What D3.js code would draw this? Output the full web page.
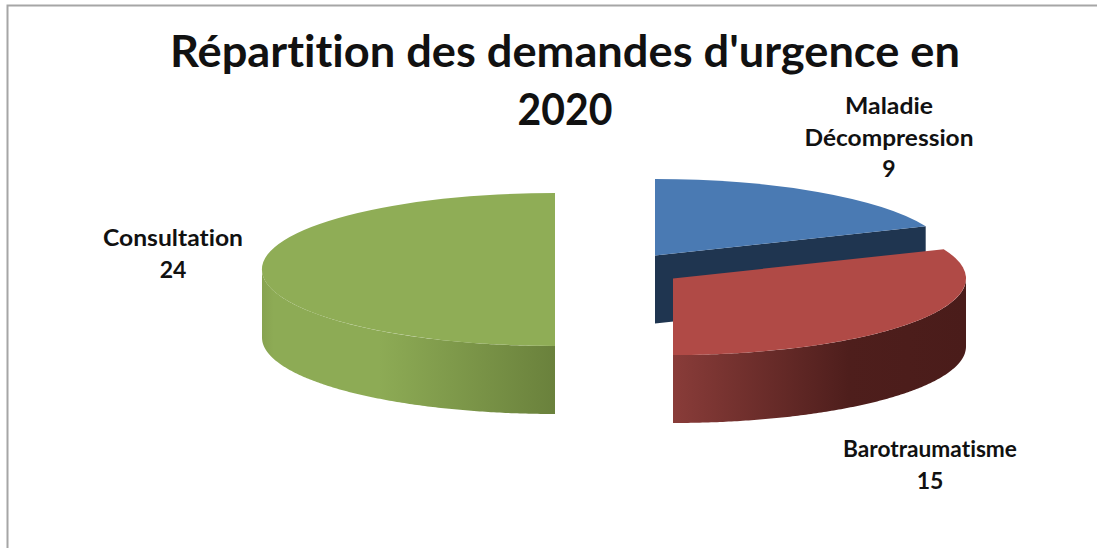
<!DOCTYPE html>
<html>
<head>
<meta charset="utf-8">
<script src="https://cdn.jsdelivr.net/npm/d3@7"></script>
<style>
  html, body { margin: 0; padding: 0; background: #fff; }
  svg { display: block; }
  text { font-family: Lato, "Open Sans", sans-serif; font-weight: 700; fill: #111; text-anchor: middle; font-variant-ligatures: none; }
</style>
</head>
<body>
<svg id="chart" width="1097" height="548"></svg>
<script>
const categories = ["Maladie Décompression", "Barotraumatisme", "Consultation"];
const values = [9, 15, 24];
const titleLines = ["Répartition des demandes d'urgence en", "2020"];
const labelLines = [["Maladie", "Décompression"], ["Barotraumatisme"], ["Consultation"]];

const topColors = ["#4a7ab3", "#b04a46", "#8fad56"];
const cutColor = "#1f3550";
// side wall shading, left to right
const sideStops = [
    null,
    [[0, "#893c39"], [0.6, "#4e1e1c"], [1, "#4a1c1a"]],
    [[0, "#87a350"], [0.04, "#8dab55"], [0.4, "#8dab55"], [1, "#6a813c"]]
];

const rx = 293, ry = 76.5, depth = 68;
const centers = [[655, 255.5], [673, 278.5], [555, 269.5]];
const labelPos = [[889, 114], [930, 457], [173, 246]];
// the Calibri-like face in the reference runs wider than Lato, so widths are pinned
const titleWidths = [790, 95];
const labelWidths = [[88, 169], [174], [140]];

const svg = d3.select("#chart");
const defs = svg.append("defs");

// chart frame
svg.append("path")
    .attr("d", d3.line()([[7.5, 548], [7.5, 5.5], [1097, 5.5]]))
    .attr("fill", "none")
    .attr("stroke", "#a6a6a6")
    .attr("stroke-width", 2);

const pie = d3.pie().sort(null).value(d => d);
const slices = pie(values);
const arc = d3.arc().innerRadius(0).outerRadius(rx);

const px = (s, a) => centers[s][0] + rx * Math.sin(a);
const py = (s, a) => centers[s][1] - ry * Math.cos(a);

// draw back to front: blue, green, red
[0, 2, 1].forEach(i => {
    const s = slices[i];
    const g = svg.append("g").attr("class", "slice");

    // cut face of the blue slice, seen from the front
    if (i === 0) {
        const c = centers[i];
        const ex = px(i, s.endAngle), ey = py(i, s.endAngle);
        g.append("path")
            .attr("d", d3.line()([[c[0], c[1]], [ex, ey], [ex, ey + depth], [c[0], c[1] + depth]]) + "Z")
            .attr("fill", cutColor);
    }

    // outer wall, only the part facing the viewer
    const a0 = Math.max(s.startAngle, Math.PI / 2);
    const a1 = Math.min(s.endAngle, Math.PI * 1.5);
    if (a0 < a1 && sideStops[i]) {
        const xs = d3.range(a0, a1, 0.01).concat([a1]);
        const xExt = d3.extent(xs, a => px(i, a));
        const grad = defs.append("linearGradient")
            .attr("id", "side" + i)
            .attr("gradientUnits", "userSpaceOnUse")
            .attr("x1", xExt[0]).attr("x2", xExt[1])
            .attr("y1", 0).attr("y2", 0);
        sideStops[i].forEach(st => {
            grad.append("stop").attr("offset", st[0]).attr("stop-color", st[1]);
        });
        const wall = d3.area()
            .x(a => px(i, a))
            .y0(a => py(i, a))
            .y1(a => py(i, a) + depth);
        g.append("path").attr("d", wall(xs)).attr("fill", "url(#side" + i + ")");
    }

    // top face
    g.append("path")
        .attr("transform", `translate(${centers[i][0]},${centers[i][1]}) scale(1,${ry / rx})`)
        .attr("d", arc(s))
        .attr("fill", topColors[i]);
});

// title
titleLines.forEach((t, i) => {
    svg.append("text")
        .attr("x", 565)
        .attr("y", 67 + i * 58)
        .attr("font-size", 44)
        .attr("textLength", titleWidths[i])
        .attr("lengthAdjust", "spacingAndGlyphs")
        .text(t);
});

// data labels: name lines and the value below them
categories.forEach((c, i) => {
    labelLines[i].forEach((t, j) => {
        svg.append("text")
            .attr("x", labelPos[i][0])
            .attr("y", labelPos[i][1] + j * 31.5)
            .attr("font-size", 22)
            .attr("textLength", labelWidths[i][j])
            .attr("lengthAdjust", "spacingAndGlyphs")
            .text(t);
    });
    svg.append("text")
        .attr("x", labelPos[i][0])
        .attr("y", labelPos[i][1] + labelLines[i].length * 31.5)
        .attr("font-size", 23)
        .text(values[i]);
});
</script>
</body>
</html>
